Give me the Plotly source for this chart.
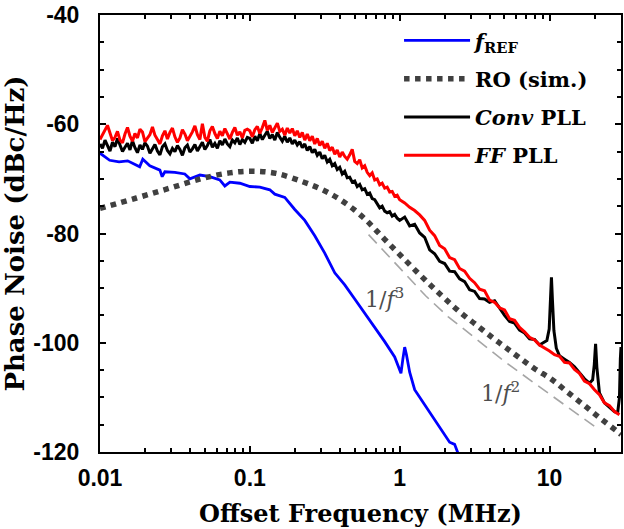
import plotly.graph_objects as go

# ---------------- data ----------------
# measurement grid mantissas (60 per decade)
MANT = [1.000, 1.039, 1.080, 1.122, 1.166, 1.212, 1.259, 1.308, 1.359, 1.413,
        1.468, 1.526, 1.585, 1.647, 1.711, 1.778, 1.848, 1.920, 1.995, 2.073,
        2.154, 2.239, 2.326, 2.417, 2.512, 2.610, 2.712, 2.818, 2.929, 3.043,
        3.162, 3.286, 3.415, 3.548, 3.687, 3.831, 3.981, 4.137, 4.299, 4.467,
        4.642, 4.823, 5.012, 5.208, 5.412, 5.623, 5.843, 6.072, 6.310, 6.556,
        6.813, 7.079, 7.356, 7.644, 7.943, 8.254, 8.577, 8.913, 9.261, 9.624]
FINE_DECADES = [0.01, 0.1]      # 60 points per decade
COARSE_DECADES = [1.0, 10.0]    # 30 points per decade

FF_DB = [
    # 0.01 - 0.1 MHz
    -62.8, -62.0, -61.1, -60.2, -61.6, -63.0, -62.4, -61.3, -62.9, -63.4,
    -61.8, -60.6, -62.2, -63.1, -61.7, -62.5, -60.9, -61.4, -63.2, -62.6,
    -61.9, -60.5, -62.0, -62.8, -63.6, -62.1, -61.2, -62.7, -61.5, -60.7,
    -62.3, -63.3, -62.5, -61.0, -61.8, -63.0, -62.2, -61.4, -60.3, -61.9,
    -62.8, -59.9, -62.4, -63.1, -61.2, -60.4, -61.7, -62.6, -61.3, -62.1,
    -60.8, -61.9, -62.7, -61.5, -60.6, -62.0, -61.4, -62.5, -61.1, -60.9,
    # 0.1 - 1 MHz
    -61.2, -62.3, -61.0, -60.4, -61.7, -60.6, -59.3, -61.1, -60.2, -61.5,
    -60.5, -59.8, -61.3, -60.9, -62.0, -60.7, -61.6, -60.8, -62.1, -61.2,
    -62.4, -61.5, -62.9, -61.8, -63.0, -62.2, -63.6, -62.6, -63.9, -63.1,
    -64.4, -63.5, -64.8, -64.2, -65.5, -64.7, -66.0, -65.1, -65.9, -66.4,
    -65.6, -64.6, -66.8, -67.2, -66.5, -68.0, -67.6, -68.8, -69.4, -68.9,
    -70.2, -70.0, -71.1, -70.8, -71.7, -71.5, -72.4, -72.3, -73.2, -73.0,
    # 1 - 10 MHz
    -73.8, -74.4, -75.2, -75.8, -76.6, -77.6, -79.4, -80.4, -82.2, -82.8,
    -84.4, -84.8, -86.4, -86.9, -88.2, -89.0, -90.2, -90.5, -92.2, -92.6,
    -93.6, -94.0, -95.6, -95.9, -97.2, -98.0, -99.0, -99.5, -100.4, -100.9,
    # 10 - 29.3 MHz
    -101.5, -102.2, -102.5, -103.6, -103.7, -104.9, -105.6, -107.0, -107.5, -108.6,
    -109.5, -111.0, -111.5, -112.6, -113.2]

CONV_DB = [
    # 0.01 - 0.1 MHz
    -63.6, -64.4, -62.9, -63.8, -64.9, -63.3, -64.1, -62.6, -63.9, -65.0,
    -64.2, -63.5, -64.7, -63.0, -64.3, -65.2, -63.8, -64.6, -63.4, -64.0,
    -65.3, -64.5, -63.7, -64.9, -65.6, -64.1, -63.6, -64.8, -65.4, -64.4,
    -65.0, -63.9, -64.6, -65.7, -64.3, -63.8, -65.1, -64.5, -63.7, -64.9,
    -64.0, -63.3, -64.6, -63.9, -62.8, -64.2, -63.5, -64.4, -63.0, -63.8,
    -62.7, -63.6, -64.1, -62.9, -63.4, -62.5, -63.7, -62.8, -63.3, -62.4,
    # 0.1 - 1 MHz
    -62.6, -63.5, -62.2, -63.0, -61.7, -62.8, -62.0, -61.3, -62.6, -61.9,
    -62.9, -61.5, -62.4, -63.1, -62.2, -63.3, -62.5, -63.6, -62.9, -63.8,
    -63.2, -64.3, -63.6, -64.8, -64.1, -65.2, -64.6, -65.7, -65.1, -66.3,
    -65.7, -66.9, -66.4, -67.6, -67.2, -68.3, -67.9, -69.1, -68.6, -69.8,
    -69.7, -70.6, -70.4, -71.4, -71.0, -72.0, -71.8, -72.8, -72.6, -73.6,
    -73.8, -74.5, -75.3, -75.0, -75.9, -76.2, -76.0, -76.8, -76.5, -77.2,
    # 1 - 10 MHz
    -77.6, -77.0, -78.6, -78.3, -79.9, -80.7, -83.0, -83.7, -85.1, -85.5,
    -86.9, -87.0, -88.3, -88.8, -90.3, -90.6, -91.9, -92.0, -92.6, -92.3,
    -93.7, -95.0, -96.1, -96.4, -97.7, -98.2, -99.3, -99.4, -100.4, -99.9]

# Conv PLL above 9.3 MHz (reference spurs near 10, 20 and 30 MHz)
CONV_TAIL_F = [9.60, 9.95, 10.15, 10.30, 10.45, 10.70, 11.10, 11.66, 12.59, 13.59,
               14.68, 15.85, 17.11, 18.48, 19.40, 19.90, 20.30, 20.70, 21.30, 21.54,
               23.26, 25.12, 27.12, 28.50, 29.30, 29.70, 30.00]
CONV_TAIL_DB = [-99.6, -97.5, -93.0, -88.0, -92.0, -97.8, -101.0, -102.4, -103.0, -103.6,
                -104.4, -105.6, -106.6, -107.4, -106.8, -104.0, -100.2, -104.5, -108.6, -109.2,
                -111.0, -111.8, -112.6, -112.8, -110.0, -103.0, -100.8]

REF_F = [0.0100, 0.0116, 0.0134, 0.0153, 0.0184, 0.0193, 0.0215, 0.0251, 0.0260, 0.0271,
         0.0316, 0.0368, 0.0398, 0.0464, 0.0541, 0.0630, 0.0681, 0.0736, 0.0858, 0.1000,
         0.1166, 0.1359, 0.1468, 0.1711, 0.1995, 0.2326, 0.2712, 0.3162, 0.3687, 0.4299,
         0.5012, 0.5843, 0.6813, 0.7943, 0.9261, 1.0200, 1.0500, 1.0800, 1.1100, 1.1660,
         1.2590, 1.3590, 1.5850, 1.8480, 2.1540, 2.3260, 2.5120]
REF_DB = [-65.3, -66.6, -66.9, -66.7, -67.8, -66.4, -67.6, -68.4, -69.6, -68.7,
          -68.8, -69.1, -70.0, -69.3, -69.6, -70.2, -71.3, -70.6, -70.8, -71.4,
          -71.5, -72.0, -72.8, -73.4, -75.6, -77.6, -80.4, -83.6, -87.2, -89.4,
          -92.0, -94.6, -97.0, -99.8, -102.6, -105.6, -103.0, -100.8, -102.2, -105.4,
          -108.6, -110.0, -112.6, -115.6, -118.2, -118.6, -121.0]

RO_F = [0.0100, 0.0175, 0.0292, 0.0484, 0.0731, 0.104, 0.150, 0.224, 0.300, 0.390,
        0.500, 0.600, 0.700, 0.850, 1.03, 1.30, 1.64, 2.00, 2.58, 3.20,
        4.09, 5.00, 6.20, 8.00, 10.2, 13.0, 17.1, 22.0, 28.5, 30.0]
RO_DB = [-75.4, -73.5, -71.7, -69.9, -68.9, -68.6, -69.0, -70.5, -71.9, -73.6,
         -75.7, -77.6, -79.5, -81.9, -84.2, -87.0, -89.7, -91.9, -94.6, -96.6,
         -98.9, -100.7, -102.6, -104.8, -106.6, -108.9, -111.5, -113.9, -116.3, -116.8]

ASYM_F = [0.62, 1.09, 1.49, 2.10, 3.35, 5.00, 8.40, 13.9, 20.4]
ASYM_DB = [-80.2, -87.3, -91.4, -95.2, -99.6, -103.4, -107.9, -112.3, -115.5]

X_TICKS = [0.01, 0.1, 1, 10]
X_LABELS = ["0.01", "0.1", "1", "10"]
Y_TICKS = [-120, -100, -80, -60, -40]
Y_LABELS = ["-120", "-100", "-80", "-60", "-40"]

# ---------------- build ----------------
fine = [m * d for d in FINE_DECADES for m in MANT]
coarse = [m * d for d in COARSE_DECADES for m in MANT[::2]]
grid = fine + coarse
ff_f = grid[:len(FF_DB)]
conv_f = grid[:len(CONV_DB)] + CONV_TAIL_F
conv_db = CONV_DB + CONV_TAIL_DB

SERIF = "DejaVu Serif"
SANS = "Liberation Sans"

fig = go.Figure()
fig.add_trace(go.Scatter(x=ASYM_F, y=ASYM_DB, mode="lines", showlegend=False,
                         line=dict(color="#a6a6a6", width=1.6, dash="12px,7px"),
                         hoverinfo="skip"))
fig.add_trace(go.Scatter(x=REF_F, y=REF_DB, mode="lines", name="<i>f</i><sub>REF</sub>",
                         line=dict(color="#0000ff", width=2.8), legendrank=1, legendgroup="a"))
fig.add_trace(go.Scatter(x=RO_F, y=RO_DB, mode="lines", name="RO (sim.)", line_shape="spline",
                         line=dict(color="#404040", width=5.5, dash="dot"), legendrank=2, legendgroup="b"))
fig.add_trace(go.Scatter(x=conv_f, y=conv_db, mode="lines", name="<i>Conv</i> PLL",
                         line=dict(color="#000000", width=3), legendrank=3, legendgroup="c"))
fig.add_trace(go.Scatter(x=ff_f, y=FF_DB, mode="lines", name="<i>FF</i> PLL",
                         line=dict(color="#ff0000", width=3), legendrank=4, legendgroup="d"))

fig.add_annotation(x=-0.098, y=-91.8, text="1/<i>f</i><sup>3</sup>", showarrow=False,
                   font=dict(family=SERIF, size=22, color="#4d4d4d"))
fig.add_annotation(x=0.673, y=-109.0, text="1/<i>f</i><sup>2</sup>", showarrow=False,
                   font=dict(family=SERIF, size=22, color="#4d4d4d"))

axis_common = dict(showline=True, linecolor="black", linewidth=2, mirror="ticks",
                   ticks="inside", ticklen=6, tickwidth=2, tickcolor="black",
                   showgrid=False, zeroline=False,
                   tickfont=dict(family=SANS, size=23, color="black", weight="bold"))

fig.update_xaxes(type="log", range=[-2, 1.4771], tickvals=X_TICKS, ticktext=X_LABELS,
                 minor=dict(ticks="inside", ticklen=4, tickwidth=2, tickcolor="black", dtick="D1", showgrid=False),
                 title=dict(text="Offset Frequency (MHz)", standoff=16,
                            font=dict(family=SERIF, size=24, color="black", weight="bold")),
                 ticklabelstandoff=4, **axis_common)
fig.update_yaxes(range=[-120, -40], tickvals=Y_TICKS, ticktext=Y_LABELS,
                 minor=dict(ticks="inside", ticklen=4, tickwidth=2, tickcolor="black", dtick=5, showgrid=False),
                 title=dict(text="Phase Noise (dBc/Hz)", standoff=2,
                            font=dict(family=SERIF, size=26, color="black", weight="bold")),
                 ticklabelstandoff=14, **axis_common)

fig.update_layout(width=624, height=529, margin=dict(l=100, r=1, t=15, b=77),
                  paper_bgcolor="white", plot_bgcolor="white",
                  legend=dict(x=0.574, y=0.988, xanchor="left", yanchor="top",
                              bgcolor="rgba(255,255,255,0)", itemwidth=66, tracegroupgap=8,
                              font=dict(family=SERIF, size=21, color="black", weight="bold")),
                  showlegend=True)

fig.write_html("out.html")
